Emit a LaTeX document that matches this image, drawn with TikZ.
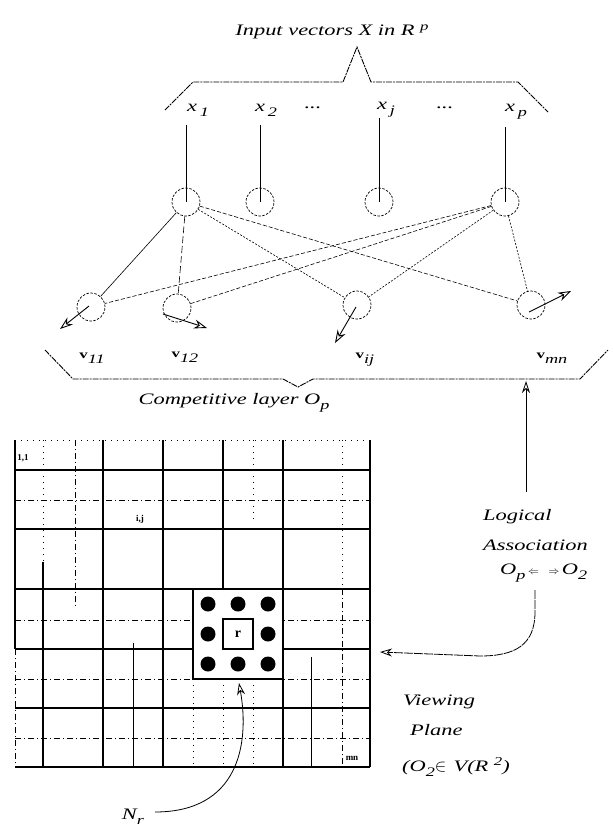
\documentclass[tikz,border=0pt]{standalone}
\usepackage{fontspec}
\setmainfont{Liberation Serif}
\newfontfamily\labfont[FakeStretch=1.4]{Liberation Serif}
\usetikzlibrary{arrows.meta}
% lowered and raised indices set in the label face
\newcommand\lowidx[1]{\raisebox{-0.7ex}{\fontsize{13}{13}\selectfont #1}}
\newcommand\highidx[1]{\raisebox{0.75ex}{\fontsize{12}{12}\selectfont #1}}
\begin{document}
\begin{tikzpicture}[x=1pt,y=-1pt,
  txt/.style={font=\labfont\fontsize{16}{18}\selectfont\itshape, inner sep=0pt},
  vlab/.style={font=\labfont\fontsize{16}{18}\selectfont\itshape, inner sep=0pt},
  small/.style={font=\fontsize{9}{10}\selectfont\bfseries, inner sep=0pt},
  neuron/.style={circle, draw, dash pattern=on 2.5pt off 1.5pt, minimum size=28pt, inner sep=0pt, line width=0.7pt},
  brace/.style={line width=0.9pt, dash pattern=on 6pt off 1pt on 2pt off 1pt},
  link/.style={line width=0.6pt},
  weight/.style={line width=0.9pt, -{Stealth[length=13pt,width=9pt,open]}},
  major/.style={line width=1.5pt},
  minor/.style={line width=0.6pt, dash pattern=on 6pt off 3pt on 1pt off 3pt},
  dotline/.style={line width=0.9pt, dash pattern=on 1pt off 5pt},
  arr/.style={line width=0.8pt, -{Stealth[length=12pt,width=8pt,open]}}]
\useasboundingbox (0,0) rectangle (613,831);

% ---------- input layer ----------
\node[txt] (title) at (332,32) {Input vectors X in R \highidx{p}};
\draw[brace] (165,110) -- (193,82) -- (343,82) -- (357,47) -- (371,82) -- (518,82) -- (548,112);

\node[txt] (x1) at (198,110) {x\,\lowidx{1}};
\node[txt] (x2) at (266,110) {x\,\lowidx{2}};
\node[txt] (d1) at (313,108) {...};
\node[txt] (xj) at (386,110) {x\,\lowidx{j}};
\node[txt] (d2) at (445,108) {...};
\node[txt] (xp) at (516,112) {x\,\lowidx{p}};

\node[neuron] (t1) at (186,202) {};
\node[neuron] (t2) at (260,202) {};
\node[neuron] (t3) at (379,202) {};
\node[neuron] (t4) at (505,202) {};

\coordinate (i1) at (186,125);
\coordinate (i2) at (260,125);
\coordinate (i3) at (379,118);
\coordinate (i4) at (505,127);
\foreach \k in {1,2,3,4} \draw[line width=0.8pt] (i\k) -- (t\k.center);

% ---------- competitive layer ----------
\node[neuron] (b1) at (91,307) {};
\node[neuron] (b2) at (177,308) {};
\node[neuron] (b3) at (357,305) {};
\node[neuron] (b4) at (531,305) {};

\draw[link] (t1) -- (b1);
\draw[link, dash pattern=on 7pt off 3pt] (t1) -- (b2);
\draw[link, dash pattern=on 2pt off 1.5pt] (t1) -- (b3);
\draw[link, dash pattern=on 4pt off 2pt] (t1) -- (b4);
\draw[link, dash pattern=on 4pt off 2pt] (t4) -- (b1);
\draw[link, dash pattern=on 4pt off 2pt] (t4) -- (b2);
\draw[link, dash pattern=on 2pt off 1.5pt] (t4) -- (b3);
\draw[link, dash pattern=on 2pt off 1.5pt] (t4) -- (b4);

% weight vectors drawn inside the output neurons
\coordinate (w1s) at (89,306);  \coordinate (w1e) at (60,329);
\coordinate (w2s) at (163,314); \coordinate (w2e) at (207,328);
\coordinate (w3s) at (356,307); \coordinate (w3e) at (335,343);
\coordinate (w4s) at (529,312); \coordinate (w4e) at (571,291);
\foreach \k in {1,2,3,4} \draw[weight] (w\k s) -- (w\k e);

\node[vlab] (v11) at (92,358) {{\upshape\bfseries\fontsize{12}{12}\selectfont v}\lowidx{11}};
\node[vlab] (v12) at (185,357) {{\upshape\bfseries\fontsize{12}{12}\selectfont v}\lowidx{12}};
\node[vlab] (vij) at (365,360) {{\upshape\bfseries\fontsize{12}{12}\selectfont v}\lowidx{ij}};
\node[vlab] (vmn) at (552,358) {{\upshape\bfseries\fontsize{12}{12}\selectfont v}\lowidx{mn}};

\draw[brace] (45,350) -- (73,379) -- (283,379) -- (298,387) -- (313,379) -- (580,379) -- (608,350);
\node[txt] (comp) at (234,403) {Competitive layer O\lowidx{p}};

% ---------- viewing plane grid ----------
\foreach \y in {470,529,589,649,708,767} \draw[major] (15,\y) -- (370,\y);
\foreach \y in {500,620,679,738} \draw[minor] (15,\y) -- (370,\y);
\draw[dotline] (15,440) -- (370,440);

\draw[major] (15,440) -- (15,649);
\draw[minor] (15,649) -- (15,767);
\foreach \x in {103,163,283,370} \draw[major] (\x,440) -- (\x,767);
\draw[major] (223,440) -- (223,589);
\draw[dotline] (223,589) -- (223,767);

\draw[dotline] (43,440) -- (43,562);
\draw[major] (43,562) -- (43,767);
\draw[minor] (75,440) -- (75,607);
\draw[line width=1pt] (133,643) -- (133,767);
\draw[dotline] (193,679) -- (193,767);
\draw[dotline] (253,440) -- (253,520);
\draw[dotline] (253,679) -- (253,767);
\draw[line width=1pt] (311,657) -- (311,767);
\draw[dotline] (342,440) -- (342,589);
\draw[minor] (342,589) -- (342,767);

\node[small] (c11) at (23,458) {1,1};
\node[small] (cij) at (140,519) {i,j};
\node[small] (cmn) at (352,758) {mn};

% neighbourhood of the winning unit
\draw[line width=2pt, fill=white] (193,589) rectangle (283,679);
\draw[line width=2pt] (223,619) rectangle (253,649);
\foreach \cx/\cy in {208/604,238/604,268/604,208/634,268/634,208/664,238/664,268/664}
  \fill (\cx,\cy) circle (7.5pt);
\node[font=\fontsize{14}{14}\selectfont\bfseries, inner sep=0pt] (win) at (238,634) {r};

\node[txt] (nr) at (133,817) {N\lowidx{r}};
\coordinate (nrs) at (155,812);
\coordinate (nre) at (239,683);
\draw[arr] (nrs) .. controls (238,812) and (250,745) .. (nre);

% ---------- association between the layers ----------
\node[txt, anchor=west] (log) at (483,517) {Logical};
\node[txt, anchor=west] (ass) at (483,545) {Association};
\node[txt, anchor=west] (rel) at (500,573) {O\lowidx{p}\,{\fontsize{11}{11}\selectfont$\Leftarrow$\;\;\;$\Rightarrow$}\,O\lowidx{2}};
\coordinate (las) at (526,492);
\coordinate (lae) at (526,381);
\draw[arr] (las) -- (lae);

\coordinate (cvs) at (535,590);
\coordinate (cve) at (380,652);
\draw[arr, dash pattern=on 9pt off 1pt] (cvs) -- (535,612) .. controls (535,645) and (515,656) .. (480,656) -- (cve);

\node[txt, anchor=west] (view) at (403,702) {Viewing};
\node[txt, anchor=west] (plane) at (410,730) {Plane};
\node[txt, anchor=west] (vp) at (402,767) {(O\lowidx{2}$\in$\;\,V(R \highidx{2})};
\end{tikzpicture}
\end{document}
